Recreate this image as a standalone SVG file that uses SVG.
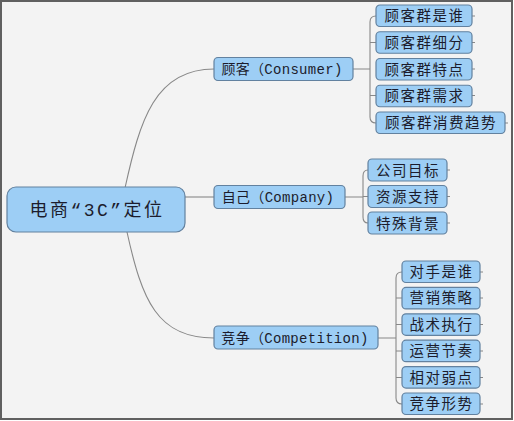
<svg xmlns="http://www.w3.org/2000/svg" width="514" height="421" viewBox="0 0 514 421">
<style>
.n rect{fill:#9dcef5;stroke:#62819f;stroke-width:1.2}
.n text{font-family:"Liberation Mono","Noto Sans CJK SC",monospace;fill:#1c1c2c;text-anchor:middle}
.s text{font-size:14.5px;letter-spacing:1.5px}
.m text{font-size:14px;letter-spacing:0.3px}
#conn path{fill:none;stroke:#888;stroke-width:1.1}
</style>
<rect x="1" y="1" width="511" height="418" fill="#f3f3f3" stroke="#606060" stroke-width="2"/>
<g id="conn">
<path d="M125,188 C140,120 155,69 214,69"/>
<path d="M185,197 H214"/>
<path d="M127,232 C142,300 157,338 214,338"/>
<path d="M353,69 H370 M376,16 Q370,16 370,22 V117 Q370,123 376,123 M370,42.5 H376 M370,95.5 H376"/>
<path d="M472,16 h3 M472,42.5 h3 M472,69 h3 M472,95.5 h3 M505,123 h3"/>
<path d="M345,197 H363 M368,170 Q363,170 363,176 V217 Q363,223 368,223 M363,196.5 H368"/>
<path d="M447,170 h3 M447,196.5 h3 M447,223 h3"/>
<path d="M378,338 H396 M402,272 Q396,272 396,278 V398 Q396,404 402,404 M396,298 H402 M396,324.5 H402 M396,351 H402 M396,377.5 H402"/>
<path d="M480,272 h3 M480,298 h3 M480,324.5 h3 M480,351 h3 M480,377.5 h3 M480,404 h3"/>
</g>
<g id="root" class="n"><rect x="7" y="187" width="178" height="45" rx="9"/><text x="97" y="216" font-size="18" letter-spacing="2.5">电商“3C”定位</text></g>
<g id="consumer" class="n m"><rect x="214" y="57.5" width="139" height="23" rx="4"/><text x="282" y="74">顾客（Consumer)</text></g>
<g id="company" class="n m"><rect x="214" y="185.5" width="131" height="23" rx="4"/><text x="278" y="202">自己（Company)</text></g>
<g id="competition" class="n m"><rect x="214" y="326" width="164" height="23" rx="4"/><text x="295" y="342.5">竞争（Competition)</text></g>
<g id="c1" class="n s"><rect x="376" y="5" width="96" height="21.5" rx="4"/><text x="424.5" y="21">顾客群是谁</text></g>
<g id="c2" class="n s"><rect x="376" y="31.75" width="96" height="21.5" rx="4"/><text x="424.5" y="47.7">顾客群细分</text></g>
<g id="c3" class="n s"><rect x="376" y="58.5" width="96" height="21.5" rx="4"/><text x="424.5" y="74.5">顾客群特点</text></g>
<g id="c4" class="n s"><rect x="376" y="85.25" width="96" height="21.5" rx="4"/><text x="424.5" y="101.2">顾客群需求</text></g>
<g id="c5" class="n s"><rect x="376" y="112" width="129" height="21.5" rx="4"/><text x="441" y="128">顾客群消费趋势</text></g>
<g id="p1" class="n s"><rect x="368" y="159" width="79" height="22" rx="4"/><text x="408" y="175.5">公司目标</text></g>
<g id="p2" class="n s"><rect x="368" y="185.5" width="79" height="22" rx="4"/><text x="408" y="202">资源支持</text></g>
<g id="p3" class="n s"><rect x="368" y="212" width="79" height="22" rx="4"/><text x="408" y="228.5">特殊背景</text></g>
<g id="k1" class="n s"><rect x="402" y="261" width="78" height="21.5" rx="4"/><text x="441.5" y="277">对手是谁</text></g>
<g id="k2" class="n s"><rect x="402" y="287.4" width="78" height="21.5" rx="4"/><text x="441.5" y="303.4">营销策略</text></g>
<g id="k3" class="n s"><rect x="402" y="313.8" width="78" height="21.5" rx="4"/><text x="441.5" y="329.8">战术执行</text></g>
<g id="k4" class="n s"><rect x="402" y="340.2" width="78" height="21.5" rx="4"/><text x="441.5" y="356.2">运营节奏</text></g>
<g id="k5" class="n s"><rect x="402" y="366.6" width="78" height="21.5" rx="4"/><text x="441.5" y="382.6">相对弱点</text></g>
<g id="k6" class="n s"><rect x="402" y="393" width="78" height="21.5" rx="4"/><text x="441.5" y="409">竞争形势</text></g>
</svg>
